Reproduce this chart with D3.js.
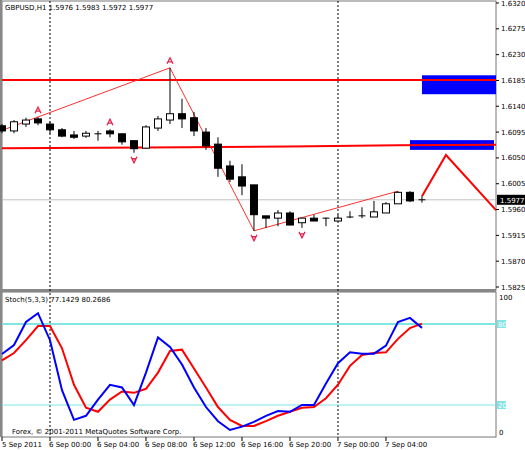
<!DOCTYPE html><html><head><meta charset="utf-8"><script src="https://cdn.jsdelivr.net/npm/d3@7"></script>
<style>body{margin:0;background:#fff}svg{display:block}text{font-family:"DejaVu Sans",sans-serif;font-size:7px;fill:#000}</style></head><body>
<script>
const opens=[1.6106,1.6097,1.6109,1.6118,1.6109,1.6099,1.6090,1.6088,1.6092,1.6097,1.6092,1.6080,1.6067,1.6102,1.6116,1.6127,1.6120,1.6095,1.6074,1.6036,1.6017,1.6003,1.5949,1.5945,1.5954,1.5937,1.5945,1.5945,1.5940,1.5947,1.5949,1.5947,1.5954,1.5970,1.5990,1.5976];
const highs=[1.6109,1.6116,1.6120,1.6121,1.6113,1.6102,1.6097,1.6097,1.6097,1.6100,1.6093,1.6081,1.6107,1.6123,1.6207,1.6153,1.6130,1.6102,1.6086,1.6045,1.6039,1.6003,1.5949,1.5959,1.5957,1.5945,1.5951,1.5946,1.5951,1.5957,1.5964,1.5975,1.5973,1.5992,1.5992,1.5983];
const lows=[1.6093,1.6093,1.6104,1.6107,1.6092,1.6086,1.6083,1.6085,1.6080,1.6086,1.6073,1.6059,1.6067,1.6097,1.6109,1.6102,1.6088,1.6064,1.6017,1.6008,1.5985,1.5923,1.5928,1.5931,1.5933,1.5928,1.5940,1.5931,1.5940,1.5945,1.5945,1.5947,1.5954,1.5970,1.5973,1.5972];
const closes=[1.6097,1.6113,1.6116,1.6111,1.6099,1.6088,1.6086,1.6093,1.6092,1.6092,1.6078,1.6066,1.6104,1.6118,1.6127,1.6118,1.6097,1.6071,1.6032,1.6013,1.6001,1.5951,1.5945,1.5954,1.5933,1.5945,1.5940,1.5945,1.5945,1.5947,1.5949,1.5956,1.5970,1.5990,1.5975,1.5977];
const stochK=[57.8,64.4,81.5,88,68,31,9,12,24,35,33,20,44,70,63,50,33,18.5,8,1.5,4,7.5,12,15.5,15,20,20,36,51,59,58,58,64,81.5,84.5,77.14];
const stochD=[53,58.5,68,78.5,78.5,62,35,18,15,24,30,29,32,44,60,61,47,33,18.5,9,4.5,4.5,8,12,15,18,18.5,25,35,49,57,58.5,59,69,77,80.27];
const priceTicks=[1.6320,1.6275,1.6230,1.6185,1.6140,1.6095,1.6050,1.6005,1.5960,1.5915,1.5870,1.5825];
const dateLabels=[[0,"5 Sep 2011"],[4,"6 Sep 00:00"],[8,"6 Sep 04:00"],[12,"6 Sep 08:00"],[16,"6 Sep 12:00"],[20,"6 Sep 16:00"],[24,"6 Sep 20:00"],[28,"7 Sep 00:00"],[32,"7 Sep 04:00"]];
const zigzag=[[0,1.6098],[14,1.6207],[21,1.5923],[33,1.5992]];
const projection=[[35,1.5983],[37,1.6055],[41.17,1.5959]];
const upFractals=[3,9,14], downFractals=[11,21,25];
const levelUpper=1.6186, levelLower=[[0,1.6067],[12,1.6068],[24,1.6070],[33,1.6072],[41.17,1.6073]];
const zones=[[35,41.17,1.6194,1.6161],[34,41,1.6081,1.6064]];
const stochLevels=[80,20];

const W=525,H=450;
const svg=d3.select("body").append("svg").attr("width",W).attr("height",H);
const x=d3.scaleLinear().domain([0,41.17]).range([2,496]);
const y=d3.scaleLinear().domain([1.5825,1.6320]).range([287,3]);
const ys=d3.scaleLinear().domain([0,100]).range([432,297]);
const red="#ff0000", pink="#ff3030";
svg.append("rect").attr("x",2).attr("y",1).attr("width",494).attr("height",289).attr("fill","none").attr("stroke","#777");
svg.append("rect").attr("x",2).attr("y",292).attr("width",494).attr("height",145).attr("fill","none").attr("stroke","#777");
svg.append("rect").attr("x",0).attr("y",289).attr("width",496).attr("height",3).attr("fill","#888");
svg.append("rect").attr("x",0).attr("y",0).attr("width",2).attr("height",437).attr("fill","#888");
[4,28].forEach(i=>svg.append("line").attr("x1",x(i)).attr("x2",x(i)).attr("y1",1).attr("y2",437).attr("stroke","#000").attr("stroke-dasharray","2,2"));
zones.forEach(z=>svg.append("rect").attr("x",x(z[0])).attr("width",x(z[1])-x(z[0])).attr("y",y(z[2])).attr("height",y(z[3])-y(z[2])).attr("fill","#0000ff"));
svg.append("line").attr("x1",2).attr("x2",496).attr("y1",y(levelUpper)).attr("y2",y(levelUpper)).attr("stroke",red).attr("stroke-width",2);
svg.append("path").attr("d",d3.line().x(d=>x(d[0])).y(d=>y(d[1]))(levelLower)).attr("fill","none").attr("stroke",red).attr("stroke-width",2);
svg.append("line").attr("x1",2).attr("x2",496).attr("y1",y(closes[35])).attr("y2",y(closes[35])).attr("stroke","#c0c0c0");
svg.append("path").attr("d",d3.line().x(d=>x(d[0])).y(d=>y(d[1]))(zigzag)).attr("fill","none").attr("stroke",pink).attr("stroke-width",1);
svg.append("path").attr("d",d3.line().x(d=>x(d[0])).y(d=>y(d[1]))(projection)).attr("fill","none").attr("stroke",red).attr("stroke-width",2);
const cg=svg.append("g");
opens.forEach((o,i)=>{
  const cx=x(i);
  cg.append("line").attr("x1",cx).attr("x2",cx).attr("y1",y(highs[i])).attr("y2",y(lows[i])).attr("stroke","#000");
  const top=y(Math.max(o,closes[i])),bot=y(Math.min(o,closes[i]));
  if(bot-top<1) cg.append("line").attr("x1",cx-3.5).attr("x2",cx+3.5).attr("y1",top).attr("y2",top).attr("stroke","#000");
  else cg.append("rect").attr("x",cx-3.5).attr("width",7).attr("y",top).attr("height",bot-top).attr("fill",closes[i]>=o?"#fff":"#000").attr("stroke","#000");
});
const fc="#e8204a";
upFractals.forEach(i=>{const cx=x(i),cy=y(highs[i])-7;
  svg.append("path").attr("d",`M${cx-3},${cy+3}L${cx},${cy-3}L${cx+3},${cy+3}M${cx-1.5},${cy+1}L${cx+1.5},${cy+1}`).attr("fill","none").attr("stroke",fc).attr("stroke-width",1.3);});
downFractals.forEach(i=>{const cx=x(i),cy=y(lows[i])+7;
  svg.append("path").attr("d",`M${cx-3},${cy-3}L${cx},${cy+3}L${cx+3},${cy-3}M${cx-1.5},${cy-1}L${cx+1.5},${cy-1}`).attr("fill","none").attr("stroke",fc).attr("stroke-width",1.3);});
priceTicks.forEach(p=>{svg.append("line").attr("x1",496).attr("x2",499).attr("y1",y(p)).attr("y2",y(p)).attr("stroke","#000");
  svg.append("text").attr("x",501).attr("y",y(p)+2.5).text(p.toFixed(4));});
svg.append("rect").attr("x",497).attr("y",y(closes[35])-5).attr("width",28).attr("height",10).attr("fill","#000");
svg.append("text").attr("x",500).attr("y",y(closes[35])+3).style("fill","#fff").text(closes[35].toFixed(4));
svg.append("text").attr("x",5).attr("y",10).text("GBPUSD,H1  1.5976 1.5983 1.5972 1.5977");
stochLevels.forEach(v=>{svg.append("line").attr("x1",2).attr("x2",496).attr("y1",ys(v)).attr("y2",ys(v)).attr("stroke","#7fe5e5").attr("stroke-width",v==80?2:1);
  svg.append("rect").attr("x",497).attr("y",ys(v)-4).attr("width",9).attr("height",8).attr("fill","#7fe5e5");
  svg.append("text").attr("x",498).attr("y",ys(v)+2.5).style("fill","#fff").text(v);});
svg.append("text").attr("x",499).attr("y",ys(100)+3).text("100");
svg.append("text").attr("x",499).attr("y",ys(0)+3).text("0");
const ls=d3.line().x((d,i)=>x(i)).y(d=>ys(d));
svg.append("path").attr("d",ls(stochD)).attr("fill","none").attr("stroke",red).attr("stroke-width",2);
svg.append("path").attr("d",ls(stochK)).attr("fill","none").attr("stroke","#0000ff").attr("stroke-width",2);
svg.append("text").attr("x",5).attr("y",302).text("Stoch(5,3,3) 77.1429 80.2686");
svg.append("text").attr("x",12).attr("y",434).text("Forex, © 2001-2011 MetaQuotes Software Corp.");
dateLabels.forEach(d=>{svg.append("line").attr("x1",x(d[0])).attr("x2",x(d[0])).attr("y1",437).attr("y2",441).attr("stroke","#000");
  svg.append("text").attr("x",x(d[0])+(d[0]?-1:0)).attr("y",447).text(d[1]);});
</script></body></html>
